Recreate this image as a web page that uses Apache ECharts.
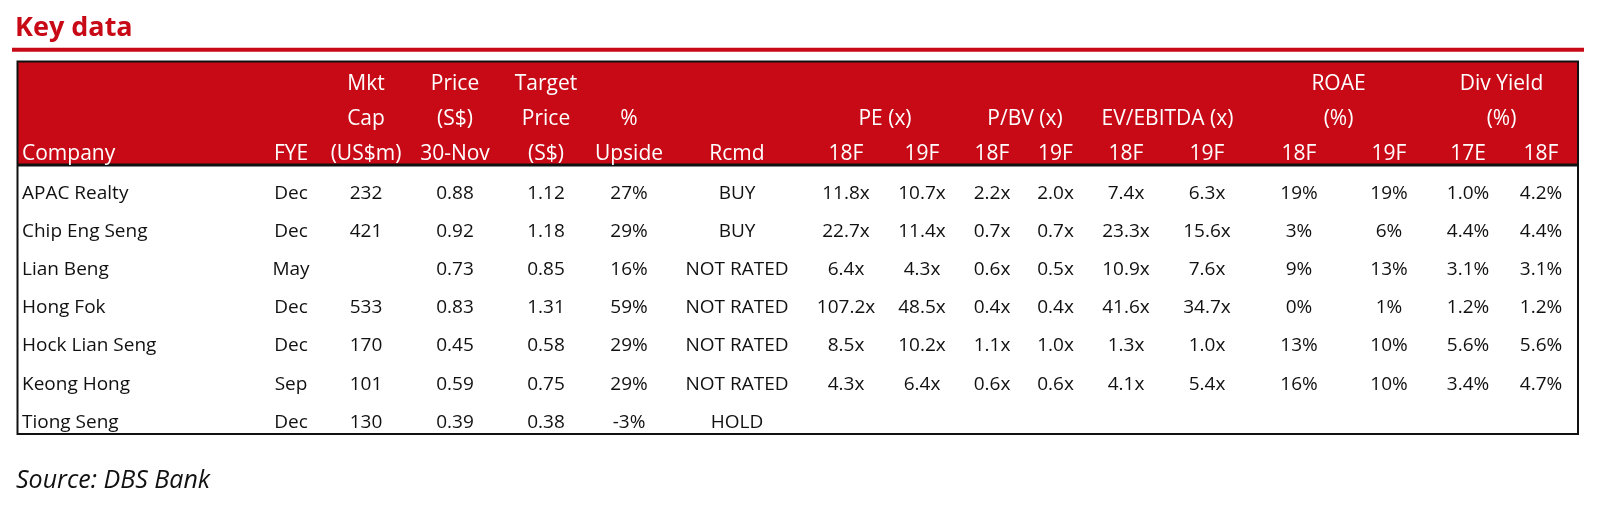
<!DOCTYPE html>
<html>
<head>
<meta charset="utf-8">
<script src="https://cdn.jsdelivr.net/npm/echarts@6/dist/echarts.min.js"></script>
<style>
html,body{margin:0;padding:0;background:#ffffff;}
#chart{width:1600px;height:509px;}
</style>
</head>
<body>
<div id="chart"></div>
<script>
// ---------------- DATA ----------------
const companies = ['APAC Realty', 'Chip Eng Seng', 'Lian Beng', 'Hong Fok', 'Hock Lian Seng', 'Keong Hong', 'Tiong Seng'];
const fye       = ['Dec', 'Dec', 'May', 'Dec', 'Dec', 'Sep', 'Dec'];
const mktCap    = [232, 421, null, 533, 170, 101, 130];
const price     = [0.88, 0.92, 0.73, 0.83, 0.45, 0.59, 0.39];
const target    = [1.12, 1.18, 0.85, 1.31, 0.58, 0.75, 0.38];
const upside    = [27, 29, 16, 59, 29, 29, -3];
const rcmd      = ['BUY', 'BUY', 'NOT RATED', 'NOT RATED', 'NOT RATED', 'NOT RATED', 'HOLD'];
const pe18      = [11.8, 22.7, 6.4, 107.2, 8.5, 4.3, null];
const pe19      = [10.7, 11.4, 4.3, 48.5, 10.2, 6.4, null];
const pbv18     = [2.2, 0.7, 0.6, 0.4, 1.1, 0.6, null];
const pbv19     = [2.0, 0.7, 0.5, 0.4, 1.0, 0.6, null];
const ev18      = [7.4, 23.3, 10.9, 41.6, 1.3, 4.1, null];
const ev19      = [6.3, 15.6, 7.6, 34.7, 1.0, 5.4, null];
const roae18    = [19, 3, 9, 0, 13, 16, null];
const roae19    = [19, 6, 13, 1, 10, 10, null];
const dy17      = [1.0, 4.4, 3.1, 1.2, 5.6, 3.4, null];
const dy18      = [4.2, 4.4, 3.1, 1.2, 5.6, 4.7, null];

// header labels (one entry per column)
const headLine1 = ['', '', 'Mkt', 'Price', 'Target', '', '', '', '', '', '', '', '', '', '', '', ''];
const headLine2 = ['', '', 'Cap', '(S$)', 'Price', '%', '', '', '', '', '', '', '', '', '', '', ''];
const headLine3 = ['Company', 'FYE', '(US$m)', '30-Nov', '(S$)', 'Upside', 'Rcmd', '18F', '19F', '18F', '19F', '18F', '19F', '18F', '19F', '17E', '18F'];
// group header labels
const groupLabels = ['PE (x)', 'P/BV (x)', 'EV/EBITDA (x)', 'ROAE', '(%)', 'Div Yield', '(%)'];
const headerLines = ['line1', 'line2', 'line3'];

const titleText = 'Key data';
const sourceText = 'Source: DBS Bank';

// ---------------- FORMAT ----------------
const txt = v => (v === null || v === undefined) ? '' : String(v);
const f2 = v => (v === null || v === undefined) ? '' : v.toFixed(2);
const fx = v => (v === null || v === undefined) ? '' : v.toFixed(1) + 'x';
const fpct = v => (v === null || v === undefined) ? '' : v + '%';
const fpct1 = v => (v === null || v === undefined) ? '' : v.toFixed(1) + '%';

const columns = [
  {values: companies, fmt: txt},
  {values: fye, fmt: txt},
  {values: mktCap, fmt: txt},
  {values: price, fmt: f2},
  {values: target, fmt: f2},
  {values: upside, fmt: fpct},
  {values: rcmd, fmt: txt},
  {values: pe18, fmt: fx},
  {values: pe19, fmt: fx},
  {values: pbv18, fmt: fx},
  {values: pbv19, fmt: fx},
  {values: ev18, fmt: fx},
  {values: ev19, fmt: fx},
  {values: roae18, fmt: fpct},
  {values: roae19, fmt: fpct},
  {values: dy17, fmt: fpct1},
  {values: dy18, fmt: fpct1}
];

// ---------------- LAYOUT ----------------
const COL_X = [22, 291, 366, 455, 546, 629, 737, 846, 922, 992, 1055.5, 1126, 1207, 1299, 1389, 1468, 1541];
const COL_ALIGN = ['left', 'center', 'center', 'center', 'center', 'center', 'center', 'center', 'center', 'center', 'center', 'center', 'center', 'center', 'center', 'center', 'center'];
const GROUP_X = [885, 1025, 1167.5, 1338.5, 1338.5, 1501.5, 1501.5];
const GROUP_LINE = [1, 1, 1, 0, 1, 0, 1];
const RED = '#C70A16';
const FONT = '"Open Sans", "Noto Sans", sans-serif';
const HEAD_FONT_SIZE = 21;
const BODY_FONT_SIZE = 19;

// header items
const headItems = [];
[headLine1, headLine2, headLine3].forEach((line, li) => {
  line.forEach((t, c) => { if (t) headItems.push({x: COL_X[c], r: li, text: t, align: COL_ALIGN[c]}); });
});
groupLabels.forEach((t, g) => headItems.push({x: GROUP_X[g], r: GROUP_LINE[g], text: t, align: 'center'}));

// body items
const bodyItems = [];
columns.forEach((col, c) => {
  col.values.forEach((v, r) => {
    const t = col.fmt(v);
    if (t) bodyItems.push({x: COL_X[c], r: r, text: t, align: COL_ALIGN[c]});
  });
});

function makeRender(items, size, color) {
  return function (params, api) {
    const it = items[params.dataIndex];
    const p = api.coord([it.x, it.r]);
    return {
      type: 'text',
      style: {
        text: it.text, x: p[0], y: p[1],
        align: it.align, verticalAlign: 'middle',
        fill: color, font: size + 'px ' + FONT
      }
    };
  };
}

const chart = echarts.init(document.getElementById('chart'), null, {renderer: 'canvas'});

const TABLE = {left: 17.5, top: 61.5, right: 1578, bottom: 434};
const HEAD_BOTTOM = 165;

chart.setOption({
  backgroundColor: '#ffffff',
  animation: false,
  title: [
    {text: titleText, left: 15, top: 15, padding: 0,
     textStyle: {fontFamily: FONT, fontSize: 27, fontWeight: 'bold', color: RED}},
    {text: sourceText, left: 16, top: 468.5, padding: 0,
     textStyle: {fontFamily: FONT, fontSize: 25, fontStyle: 'italic', fontWeight: 'normal', color: '#111111'}}
  ],
  grid: [
    {left: 0, right: 0, top: 67, height: 104.25, containLabel: false},
    {left: 0, right: 0, top: 174.3, height: 267.2, containLabel: false}
  ],
  xAxis: [
    {gridIndex: 0, type: 'value', min: 0, max: 1600, show: false},
    {gridIndex: 1, type: 'value', min: 0, max: 1600, show: false}
  ],
  yAxis: [
    {gridIndex: 0, type: 'category', data: headerLines, inverse: true, show: false},
    {gridIndex: 1, type: 'category', data: companies, inverse: true, show: false}
  ],
  graphic: [
    {type: 'line', z: 1, shape: {x1: 12, y1: 49.7, x2: 1584, y2: 49.7}, style: {stroke: RED, lineWidth: 4}},
    {type: 'rect', z: 1, shape: {x: TABLE.left, y: TABLE.top, width: TABLE.right - TABLE.left, height: HEAD_BOTTOM - TABLE.top}, style: {fill: RED}},
    {type: 'rect', z: 2, shape: {x: TABLE.left, y: TABLE.top, width: TABLE.right - TABLE.left, height: TABLE.bottom - TABLE.top}, style: {fill: null, stroke: '#111111', lineWidth: 2}},
    {type: 'line', z: 2, shape: {x1: TABLE.left, y1: HEAD_BOTTOM, x2: TABLE.right, y2: HEAD_BOTTOM}, style: {stroke: '#111111', lineWidth: 3}}
  ],
  series: [
    {type: 'custom', xAxisIndex: 0, yAxisIndex: 0, clip: false, z: 10,
     data: headItems.map(it => [it.x, it.r]), renderItem: makeRender(headItems, HEAD_FONT_SIZE, '#ffffff')},
    {type: 'custom', xAxisIndex: 1, yAxisIndex: 1, clip: false, z: 10,
     data: bodyItems.map(it => [it.x, it.r]), renderItem: makeRender(bodyItems, BODY_FONT_SIZE, '#111111')}
  ]
});
</script>
</body>
</html>
